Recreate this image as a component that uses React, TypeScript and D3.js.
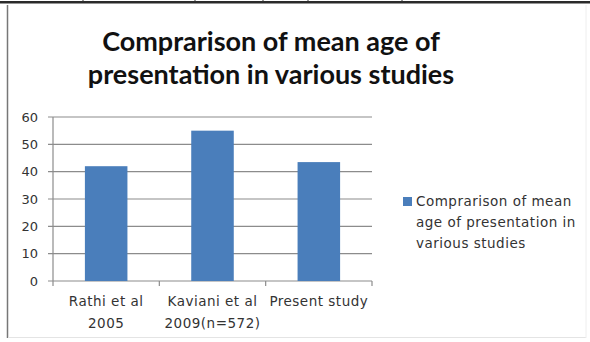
import React from "react";
import * as d3 from "d3";

const categories: string[][] = [
  ["Rathi et al", "2005"],
  ["Kaviani et al", "2009(n=572)"],
  ["Present study"],
];
const values: number[] = [42, 55, 43.5];
const yTicks: number[] = [0, 10, 20, 30, 40, 50, 60];
const titleLines: string[] = ["Comprarison of mean age of", "presentation in various studies"];
const legendLines: string[] = ["Comprarison of mean", "age of presentation in", "various studies"];
const topMarks: number[] = [83, 195, 263, 308, 402];

export default function App() {
  const W = 590, H = 342;
  const left = 53, right = 372, top = 117, bottom = 281;
  const x = d3.scaleBand<number>().domain(d3.range(values.length)).range([left, right]).paddingInner(0.6).paddingOuter(0.3);
  const xb = d3.scaleBand<number>().domain(d3.range(values.length)).range([left, right]);
  const y = d3.scaleLinear().domain([0, 60]).range([bottom, top]);
  const grid = "#8c8c8c";
  const font = "'DejaVu Sans', Verdana, sans-serif";
  return (
    <svg width={W} height={H} style={{ position: "absolute", left: 0, top: 0, background: "#fff" }}>
      {/* frame */}
      <rect x={0} y={1} width={590} height={2.5} fill="#2a2a2a" />
      {topMarks.map((m) => (
        <line key={m} x1={m} x2={m} y1={0} y2={2} stroke="#333" strokeWidth={1} />
      ))}
      <line x1={7.5} x2={7.5} y1={5} y2={338} stroke="#777" strokeWidth={1.5} />
      <line x1={8} x2={586} y1={337.5} y2={337.5} stroke="#e4e4e4" strokeWidth={1} />
      <line x1={586} x2={586} y1={5} y2={338} stroke="#eee" strokeWidth={1} />
      {/* title */}
      {titleLines.map((t, i) => (
        <text key={i} x={271} y={51 + i * 33} textAnchor="middle" fontFamily="Lato, sans-serif" fontWeight="bold" fontSize={27} fill="#111">
          {t}
        </text>
      ))}
      {/* gridlines */}
      {yTicks.map((t) => (
        <g key={t}>
          <line x1={left - 5} x2={right} y1={y(t)} y2={y(t)} stroke={grid} strokeWidth={1.2} />
          <text x={38} y={y(t) + 4.5} textAnchor="end" fontFamily={font} fontSize={13} fill="#333">
            {t}
          </text>
        </g>
      ))}
      <line x1={left} x2={left} y1={top} y2={bottom} stroke={grid} strokeWidth={1.2} />
      {d3.range(values.length + 1).map((i) => {
        const xx = i < values.length ? xb(i)! : right;
        return <line key={i} x1={xx} x2={xx} y1={bottom} y2={bottom + 5} stroke={grid} strokeWidth={1.2} />;
      })}
      {/* bars */}
      {values.map((v, i) => (
        <rect key={i} x={x(i)} y={y(v)} width={x.bandwidth()} height={y(0) - y(v)} fill="#4a7ebb" />
      ))}
      {/* category labels */}
      {categories.map((lines, i) => (
        <text key={i} x={xb(i)! + xb.bandwidth() / 2} textAnchor="middle" fontFamily={font} fontSize={13.5} letterSpacing={0.5} fill="#333">
          {lines.map((l, j) => (
            <tspan key={j} x={xb(i)! + xb.bandwidth() / 2} y={306 + j * 22}>
              {l}
            </tspan>
          ))}
        </text>
      ))}
      {/* legend */}
      <rect x={403} y={197} width={9} height={9} fill="#4a7ebb" />
      {legendLines.map((l, i) => (
        <text key={i} x={416} y={206 + i * 21} fontFamily={font} fontSize={13.5} letterSpacing={0.5} fill="#333">
          {l}
        </text>
      ))}
    </svg>
  );
}
